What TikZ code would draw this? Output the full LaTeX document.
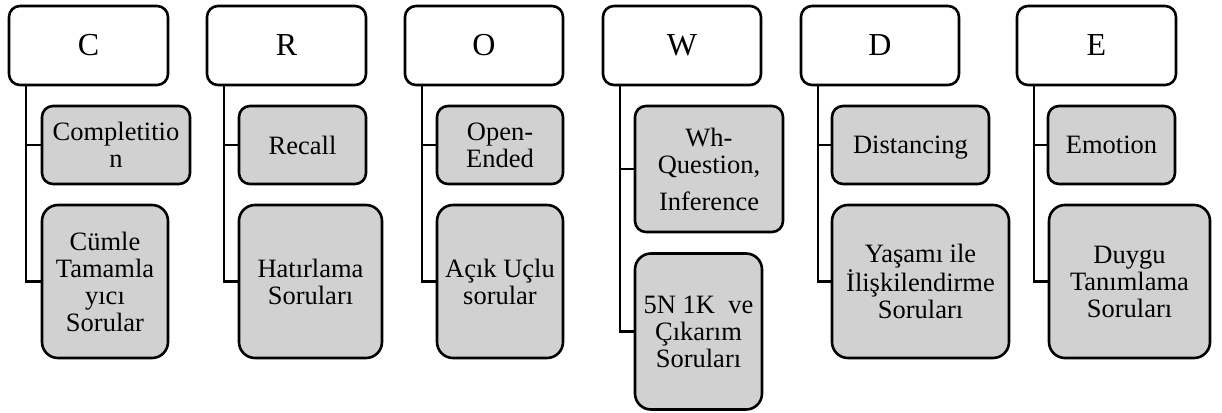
\documentclass[tikz,border=0pt]{standalone}
\usepackage{fontspec}
\setmainfont{Liberation Serif}
\definecolor{boxgray}{RGB}{209,209,209}
\tikzset{
  topbox/.style={draw, line width=2.6pt, rounded corners=11pt, fill=white,
    minimum height=79pt, inner sep=0pt, font=\fontsize{32}{32}\selectfont},
  childbox/.style={draw, line width=2.6pt, rounded corners=11pt, fill=boxgray,
    inner sep=0pt, align=center, font=\fontsize{26.5}{27}\selectfont},
  tallbox/.style={childbox, rounded corners=16pt},
  conn/.style={line width=2.8pt}
}
\begin{document}
\begin{tikzpicture}[x=1pt,y=-1pt]
\useasboundingbox (0,0) rectangle (1222,412);
% top boxes
\node[topbox, minimum width=159pt] (C) at (88.5,45.5) {C};
\node[topbox, minimum width=159pt] (R) at (286.5,45.5) {R};
\node[topbox, minimum width=158pt] (O) at (484,45.5) {O};
\node[topbox, minimum width=158pt] (W) at (682,45.5) {W};
\node[topbox, minimum width=158pt] (D) at (880,45.5) {D};
\node[topbox, minimum width=159pt] (E) at (1096.5,45.5) {E};
% first children
\node[childbox, minimum width=148pt, minimum height=78pt] (C1) at (116,145) {Completitio\\n};
\node[childbox, minimum width=127pt, minimum height=78pt] (R1) at (302.5,145) {Recall};
\node[childbox, minimum width=126pt, minimum height=78pt] (O1) at (500,145) {Open-\\Ended};
\node[childbox, minimum width=148pt, minimum height=126pt] (W1) at (709,169) {Wh-\\Question,\\[10pt]Inference};
\node[childbox, minimum width=157pt, minimum height=78pt, text depth=0pt] (D1) at (910.5,145) {Distancing};
\node[childbox, minimum width=127pt, minimum height=78pt] (E1) at (1111.5,145) {Emotion};
% second children
\node[tallbox, minimum width=126pt, minimum height=153pt] (C2) at (105,281.5) {Cümle\\Tamamla\\yıcı\\Sorular};
\node[tallbox, minimum width=143pt, minimum height=153pt] (R2) at (310.5,281.5) {Hatırlama\\Soruları};
\node[tallbox, minimum width=126pt, minimum height=153pt] (O2) at (500,281.5) {Açık Uçlu\\sorular};
\node[tallbox, minimum width=127pt, minimum height=156pt] (W2) at (698.5,331.5) {5N 1K\ \ ve\\Çıkarım\\Soruları};
\node[tallbox, minimum width=177pt, minimum height=153pt] (D2) at (920.5,281.5) {Yaşamı ile\\İlişkilendirme\\Soruları};
\node[tallbox, minimum width=161pt, minimum height=153pt] (E2) at (1129.5,281.5) {Duygu\\Tanımlama\\Soruları};
% connectors
\foreach \p in {C,R,O,W,D,E}{
  \coordinate (\p v) at ([xshift=18.3pt,yshift=1.3pt]\p.south west);
  \draw[conn] (\p v) |- (\p2.west);
  \draw[conn] (\p v |- \p1.west) -- (\p1.west);
}
\end{tikzpicture}
\end{document}
